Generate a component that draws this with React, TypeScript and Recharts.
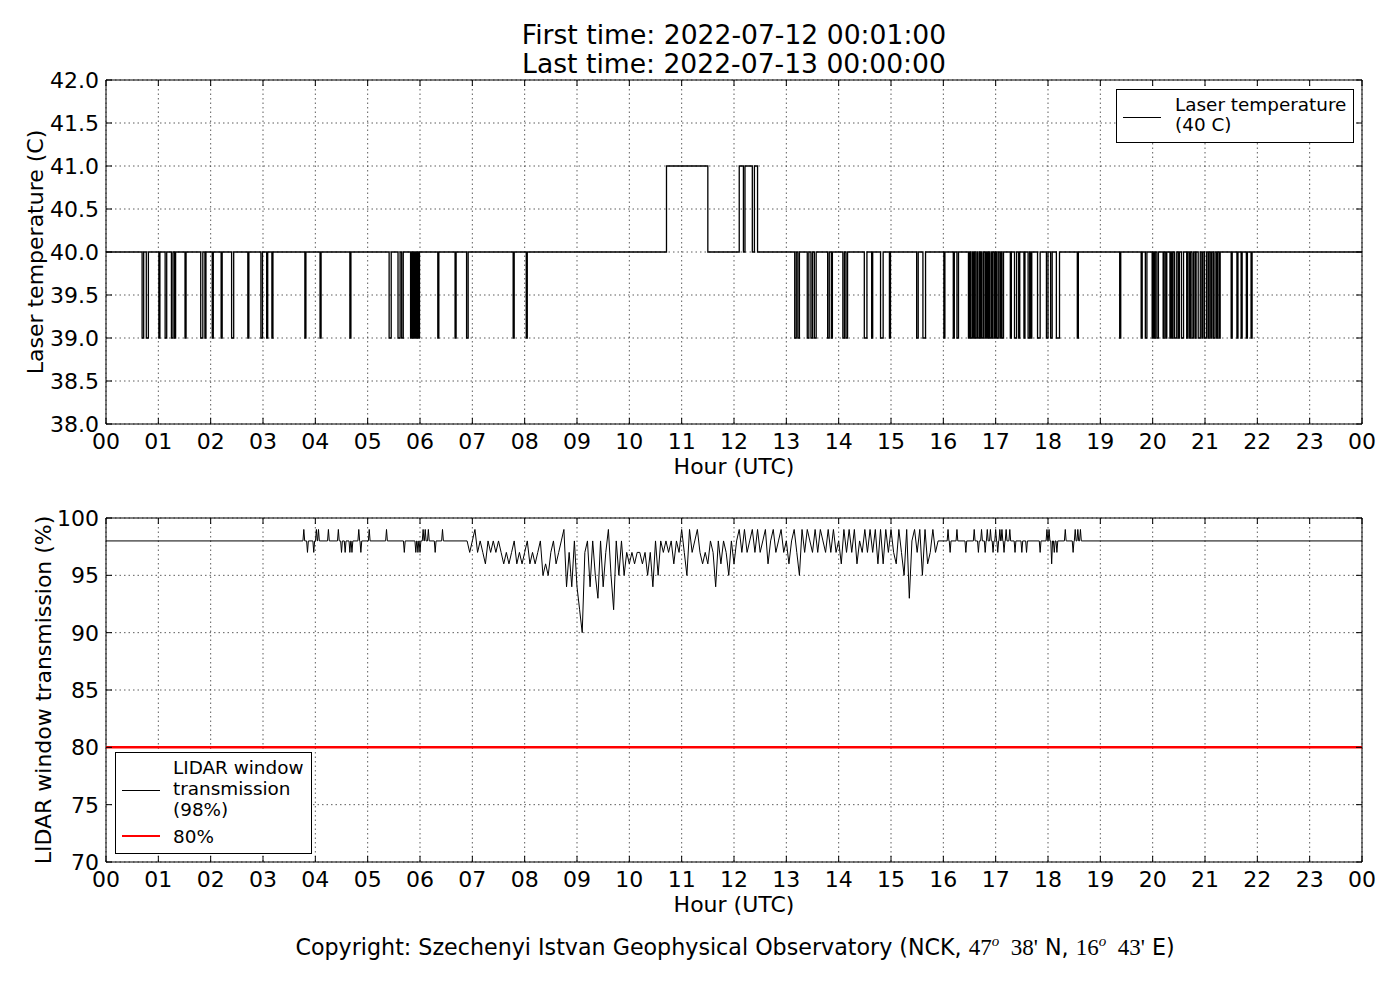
import React from 'react';
import { LineChart, Line, XAxis, YAxis, CartesianGrid, ReferenceArea } from 'recharts';

const FONT = "'DejaVu Sans', sans-serif";

// hour ticks shared by both panels
const hourTicks = [0, 1, 2, 3, 4, 5, 6, 7, 8, 9, 10, 11, 12, 13, 14, 15, 16, 17, 18, 19, 20, 21, 22, 23, 24];
const hourLabels = ['00', '01', '02', '03', '04', '05', '06', '07', '08', '09', '10', '11', '12',
    '13', '14', '15', '16', '17', '18', '19', '20', '21', '22', '23', '00'];

// laser temperature panel
const tempTicks = [38, 38.5, 39, 39.5, 40, 40.5, 41, 41.5, 42];
const tempBase = 40;
// [start hour, end hour] where the laser read 39 C
const tempDips = [
    [0.69, 0.72], [0.77, 0.81], [1.01, 1.03], [1.13, 1.16], [1.25, 1.28], [1.31, 1.33], [1.51, 1.53],
    [1.81, 1.85], [1.89, 1.91], [2.03, 2.05], [2.20, 2.22], [2.40, 2.44], [2.71, 2.73], [2.96, 2.99],
    [3.07, 3.09], [3.17, 3.19], [3.80, 3.82], [4.09, 4.11], [4.66, 4.68], [5.41, 5.45], [5.58, 5.62],
    [5.65, 5.68], [5.82, 5.84], [5.86, 5.88], [5.90, 5.92], [5.94, 5.96], [5.97, 5.99], [6.34, 6.36],
    [6.67, 6.69], [6.89, 6.92], [7.78, 7.80], [8.03, 8.05],
    [13.16, 13.19], [13.22, 13.25], [13.40, 13.43], [13.47, 13.50], [13.535, 13.57], [13.79, 13.82],
    [13.86, 13.88], [14.08, 14.11], [14.14, 14.17], [14.49, 14.54], [14.63, 14.65], [14.80, 14.85],
    [14.97, 14.99], [15.49, 15.52], [15.61, 15.66], [16.01, 16.03], [16.19, 16.21], [16.26, 16.29],
    [16.48, 16.50], [16.52, 16.55], [16.57, 16.59], [16.61, 16.64], [16.66, 16.69], [16.71, 16.72],
    [16.74, 16.77], [16.80, 16.82], [16.84, 16.86], [16.88, 16.91], [16.93, 16.95], [16.98, 17.00],
    [17.02, 17.05], [17.08, 17.10], [17.12, 17.15], [17.28, 17.30], [17.36, 17.40], [17.44, 17.46],
    [17.54, 17.56], [17.62, 17.65], [17.67, 17.69], [17.80, 17.85], [17.97, 18.00], [18.05, 18.08],
    [18.16, 18.22], [18.56, 18.58], [19.37, 19.39], [19.78, 19.80], [19.86, 19.89],
    [19.99, 20.01], [20.03, 20.05], [20.08, 20.11], [20.20, 20.22], [20.25, 20.27], [20.33, 20.35],
    [20.37, 20.39], [20.42, 20.46], [20.49, 20.51], [20.55, 20.59], [20.65, 20.67], [20.70, 20.72],
    [20.75, 20.78], [20.81, 20.83], [20.87, 20.91], [20.94, 20.96], [20.99, 21.03], [21.06, 21.08],
    [21.11, 21.13], [21.16, 21.19], [21.22, 21.24], [21.27, 21.29],
    [21.50, 21.52], [21.61, 21.63], [21.69, 21.71], [21.79, 21.81], [21.88, 21.90],
];
// [start hour, end hour] where the laser read 41 C
const tempRises = [[10.71, 11.50], [12.10, 12.18], [12.21, 12.35], [12.39, 12.45]];

// LIDAR window transmission panel
const transTicks = [70, 75, 80, 85, 90, 95, 100];
const transBase = 98;
const threshold = 80;
// single-minute spikes away from 98 %
const transSpikes = [
    [3.78, 99], [3.85, 97], [3.97, 97], [4.02, 99], [4.06, 99], [4.25, 99], [4.44, 99], [4.50, 97],
    [4.57, 97], [4.66, 97], [4.70, 97], [4.83, 99], [4.87, 97], [5.03, 99], [5.36, 99], [5.70, 97],
    [5.92, 97], [5.96, 97], [6.00, 97], [6.06, 99], [6.10, 99], [6.16, 99], [6.29, 97], [6.43, 99],
    [16.09, 99], [16.13, 97], [16.26, 99], [16.43, 97], [16.59, 99], [16.67, 97], [16.73, 99], [16.80, 97],
    [16.84, 99], [16.90, 99], [16.95, 97], [17.00, 99], [17.04, 97], [17.08, 99], [17.12, 99], [17.16, 97],
    [17.20, 99], [17.27, 99], [17.37, 97], [17.50, 97], [17.59, 97], [17.85, 97], [17.98, 99], [18.02, 99],
    [18.07, 96], [18.12, 97], [18.17, 97], [18.33, 99], [18.48, 97], [18.52, 99], [18.57, 99], [18.62, 99],
];
// noisy stretch around midday
const transNoisy = [
    [6.90, 98], [6.95, 97], [7.00, 98], [7.05, 99], [7.10, 97], [7.15, 98], [7.20, 97], [7.25, 96], [7.30, 98],
    [7.35, 97], [7.40, 98], [7.45, 97], [7.50, 98], [7.55, 97], [7.60, 96], [7.65, 97], [7.70, 96], [7.75, 97],
    [7.80, 98], [7.85, 96], [7.90, 97], [7.95, 96],
    [8.00, 97], [8.05, 98], [8.10, 96], [8.15, 97], [8.20, 96], [8.25, 97], [8.30, 98], [8.35, 95], [8.40, 96],
    [8.45, 95], [8.50, 97], [8.55, 98], [8.60, 96], [8.65, 97], [8.70, 98], [8.75, 99], [8.80, 94], [8.85, 97],
    [8.90, 94], [8.95, 98],
    [9.00, 94], [9.05, 92], [9.10, 90], [9.15, 97], [9.20, 98], [9.25, 94], [9.30, 98], [9.35, 95], [9.40, 93],
    [9.45, 98], [9.50, 94], [9.55, 97], [9.60, 99], [9.65, 95], [9.70, 92], [9.75, 98], [9.80, 95], [9.85, 98],
    [9.90, 95], [9.95, 97],
    [10.00, 96], [10.05, 97], [10.10, 96], [10.15, 97], [10.20, 97], [10.25, 96], [10.30, 97], [10.35, 95],
    [10.40, 97], [10.45, 94], [10.50, 98], [10.55, 95], [10.60, 98], [10.65, 97], [10.70, 98], [10.75, 97],
    [10.80, 98], [10.85, 96], [10.90, 98], [10.95, 97],
    [11.00, 99], [11.05, 97], [11.10, 95], [11.15, 99], [11.20, 97], [11.25, 98], [11.30, 99], [11.35, 97],
    [11.40, 96], [11.45, 97], [11.50, 96], [11.55, 98], [11.60, 97], [11.65, 94], [11.70, 98], [11.75, 96],
    [11.80, 98], [11.85, 97], [11.90, 95], [11.95, 98],
    [12.00, 96], [12.05, 98], [12.10, 99], [12.15, 97], [12.20, 99], [12.25, 97], [12.30, 98], [12.35, 99],
    [12.40, 97], [12.45, 99], [12.50, 97], [12.55, 98], [12.60, 99], [12.65, 96], [12.70, 98], [12.75, 99],
    [12.80, 97], [12.85, 98], [12.90, 99], [12.95, 97],
    [13.00, 98], [13.05, 96], [13.10, 98], [13.15, 99], [13.20, 97], [13.25, 95], [13.30, 99], [13.35, 97],
    [13.40, 99], [13.45, 98], [13.50, 97], [13.55, 99], [13.60, 97], [13.65, 99], [13.70, 98], [13.75, 97],
    [13.80, 99], [13.85, 97], [13.90, 99], [13.95, 97],
    [14.00, 98], [14.05, 96], [14.10, 99], [14.15, 97], [14.20, 99], [14.25, 97], [14.30, 99], [14.35, 96],
    [14.40, 98], [14.45, 97], [14.50, 99], [14.55, 97], [14.60, 99], [14.65, 97], [14.70, 99], [14.75, 96],
    [14.80, 99], [14.85, 96], [14.90, 99], [14.95, 97],
    [15.00, 99], [15.05, 97], [15.10, 96], [15.15, 99], [15.20, 97], [15.25, 95], [15.30, 99], [15.35, 93],
    [15.40, 98], [15.45, 99], [15.50, 97], [15.55, 99], [15.60, 95], [15.65, 99], [15.70, 96], [15.75, 97],
    [15.80, 99], [15.85, 97], [15.90, 98],
];

// build step points for the temperature trace
const tempPoints = [
    { h: 0, temp: tempBase },
    ...tempDips.flatMap(([s, e]) => [{ h: s, temp: 39 }, { h: e, temp: tempBase }]),
    ...tempRises.flatMap(([s, e]) => [{ h: s, temp: 41 }, { h: e, temp: tempBase }]),
    { h: 24, temp: tempBase },
].sort((a, b) => a.h - b.h);

const ONE_MIN = 1 / 60;
const transPoints = [
    { h: 0, trans: transBase },
    ...transSpikes.flatMap(([h, v]) => [
        { h: h - ONE_MIN, trans: transBase }, { h, trans: v }, { h: h + ONE_MIN, trans: transBase },
    ]),
    ...transNoisy.map(([h, v]) => ({ h, trans: v })),
    { h: 24, trans: transBase },
].sort((a, b) => a.h - b.h);

const thresholdLine = [{ h: 0, limit: threshold }, { h: 24, limit: threshold }];

const PLOT_L = 106;
const PLOT_R = 1362;

const makeXTick = (top: number, bottom: number) => (props: any) => {
    const { x, payload } = props;
    return (
        <g>
            <line x1={x} x2={x} y1={bottom} y2={bottom - 6} stroke="#000" />
            <line x1={x} x2={x} y1={top} y2={top + 6} stroke="#000" />
            <text x={x} y={bottom + 25} textAnchor="middle" fontSize={22} fill="#000" fontFamily={FONT}>
                {hourLabels[hourTicks.indexOf(payload.value)]}
            </text>
        </g>
    );
};

const makeYTick = (fmt: (v: number) => string) => (props: any) => {
    const { y, payload } = props;
    return (
        <g>
            <line x1={PLOT_L} x2={PLOT_L + 6} y1={y} y2={y} stroke="#000" />
            <line x1={PLOT_R} x2={PLOT_R - 6} y1={y} y2={y} stroke="#000" />
            <text x={PLOT_L - 7} y={y} dy="0.36em" textAnchor="end" fontSize={22} fill="#000" fontFamily={FONT}>
                {fmt(payload.value)}
            </text>
        </g>
    );
};

const yTitle = (text: string, x: number, y: number) => () => (
    <text x={x} y={y} transform={`rotate(-90 ${x} ${y})`} textAnchor="middle" dy="0.36em"
        fontSize={22} fill="#000" fontFamily={FONT}>
        {text}
    </text>
);

const xTitle = { value: 'Hour (UTC)', position: 'insideBottom' as const, offset: 10, fontSize: 22, fill: '#000', fontFamily: FONT };

export default function App() {
    return (
        <div style={{ position: 'absolute', left: 0, top: 0, width: 1400, height: 1000, background: '#fff', fontFamily: FONT }}>
            <div style={{ position: 'absolute', left: 0, top: 0 }}>
                <LineChart width={1400} height={500} data={tempPoints} margin={{ top: 80, right: 38, bottom: 16, left: 20 }}>
                    <CartesianGrid stroke="#333" strokeWidth={0.8} strokeDasharray="1.5 3" />
                    <XAxis dataKey="h" type="number" domain={[0, 24]} ticks={hourTicks} interval={0}
                        axisLine={false} tickLine={false} height={60} tick={makeXTick(80, 424)} label={xTitle} />
                    <YAxis type="number" domain={[38, 42]} ticks={tempTicks} interval={0} width={86}
                        axisLine={false} tickLine={false} tick={makeYTick((v) => v.toFixed(1))}
                        label={yTitle('Laser temperature (C)', 35, 252)} />
                    <Line type="stepAfter" dataKey="temp" stroke="#000" strokeWidth={1.3} dot={false} isAnimationActive={false} />
                    <ReferenceArea x1={0} x2={24} y1={38} y2={42} fill="none" fillOpacity={0} stroke="#000" strokeWidth={1} />
                </LineChart>
            </div>
            <div style={{ position: 'absolute', left: 0, top: 440 }}>
                <LineChart width={1400} height={500} margin={{ top: 78, right: 38, bottom: 18, left: 20 }}>
                    <CartesianGrid stroke="#333" strokeWidth={0.8} strokeDasharray="1.5 3" />
                    <XAxis dataKey="h" type="number" domain={[0, 24]} ticks={hourTicks} interval={0}
                        axisLine={false} tickLine={false} height={60} tick={makeXTick(78, 422)} label={xTitle} />
                    <YAxis type="number" domain={[70, 100]} ticks={transTicks} interval={0} width={86}
                        axisLine={false} tickLine={false} tick={makeYTick((v) => String(v))}
                        label={yTitle('LIDAR window transmission (%)', 43, 250)} />
                    <Line data={thresholdLine} type="linear" dataKey="limit" stroke="#ff0000" strokeWidth={2.5} dot={false} isAnimationActive={false} />
                    <Line data={transPoints} type="linear" dataKey="trans" stroke="#000" strokeWidth={1} dot={false} isAnimationActive={false} />
                    <ReferenceArea x1={0} x2={24} y1={70} y2={100} fill="none" fillOpacity={0} stroke="#000" strokeWidth={1} />
                </LineChart>
            </div>

            <div style={{ position: 'absolute', left: 734, top: 20, transform: 'translateX(-50%)', whiteSpace: 'nowrap', textAlign: 'center', fontSize: 26.6, lineHeight: '29px' }}>
                First time: 2022-07-12 00:01:00<br />Last time: 2022-07-13 00:00:00
            </div>

            <div style={{ position: 'absolute', left: 1116, top: 89, width: 238, height: 54, border: '1px solid #000', boxSizing: 'border-box', background: '#fff' }}>
                <div style={{ position: 'absolute', left: 6, top: 27, width: 38, borderTop: '1.3px solid #000' }} />
                <div style={{ position: 'absolute', left: 58, top: 5, fontSize: 18.4, lineHeight: '20px', whiteSpace: 'nowrap' }}>
                    Laser temperature<br />(40 C)
                </div>
            </div>

            <div style={{ position: 'absolute', left: 115, top: 752, width: 197, height: 102, border: '1px solid #000', boxSizing: 'border-box', background: '#fff' }}>
                <div style={{ position: 'absolute', left: 6, top: 37, width: 38, borderTop: '1px solid #000' }} />
                <div style={{ position: 'absolute', left: 57, top: 4, fontSize: 18.4, lineHeight: '21px', whiteSpace: 'nowrap' }}>
                    LIDAR window<br />transmission<br />(98%)
                </div>
                <div style={{ position: 'absolute', left: 6, top: 82, width: 38, borderTop: '2.5px solid #ff0000' }} />
                <div style={{ position: 'absolute', left: 57, top: 73, fontSize: 18.4, lineHeight: '21px', whiteSpace: 'nowrap' }}>80%</div>
            </div>

            <div style={{ position: 'absolute', left: 735, top: 933, transform: 'translateX(-50%)', whiteSpace: 'nowrap', fontSize: 22.2, lineHeight: '28px' }}>
                Copyright: Szechenyi Istvan Geophysical Observatory (NCK,{' '}
                <span style={{ fontFamily: "'Liberation Serif', serif", fontSize: 23 }}>47<sup style={{ fontStyle: 'italic', fontSize: 15, lineHeight: 0 }}>o</sup>&nbsp; 38'</span>
                {' '}N,{' '}
                <span style={{ fontFamily: "'Liberation Serif', serif", fontSize: 23 }}>16<sup style={{ fontStyle: 'italic', fontSize: 15, lineHeight: 0 }}>o</sup>&nbsp; 43'</span>
                {' '}E)
            </div>
        </div>
    );
}
